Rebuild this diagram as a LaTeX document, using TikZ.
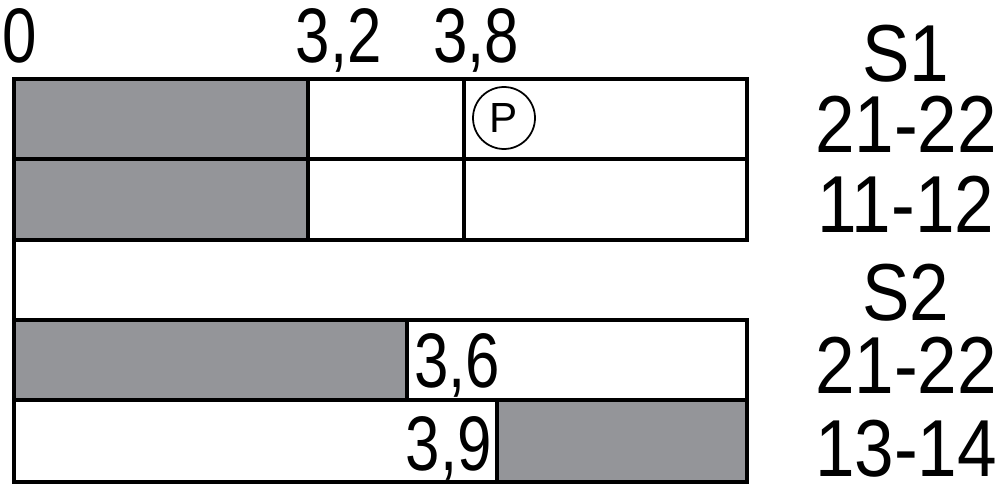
\documentclass[tikz,border=0pt]{standalone}
\usepackage{fontspec}
\setmainfont{Liberation Sans}
\newfontfamily\dinfont[FakeStretch=0.8]{Liberation Sans}
\newfontfamily\condfont[FakeStretch=0.88]{Liberation Sans}
\definecolor{camgray}{RGB}{148,149,153}
\begin{document}
\begin{tikzpicture}[x=0.02cm,y=-0.02cm]
            \useasboundingbox (0,0) rectangle (1000,500);
            % shaded parts of the cam
            \fill[camgray] (14,79) rectangle (308,240);
            \fill[camgray] (14,320) rectangle (407,400);
            \fill[camgray] (497,400) rectangle (747,482);
            \begin{scope}[line width=2.2pt]
            \draw (14,79) rectangle (747,240);
            \draw (14,159) -- (747,159);
            \draw (308,79) -- (308,240);
            \draw (464,79) -- (464,240);
            \draw (14,240) -- (14,320);
            \draw (14,320) rectangle (747,482);
            \draw (14,400) -- (747,400);
            \draw (407,320) -- (407,400);
            \draw (497,400) -- (497,482);
            \end{scope}
            \node[circle,draw,line width=1pt,minimum size=1.24cm,inner sep=0pt,font=\fontsize{24}{24}\selectfont] (p) at (504,118) {P};
            \begin{scope}[every node/.style={inner sep=0pt,font=\dinfont\fontsize{44}{44}\selectfont}]
            \node[anchor=base west] (t0) at (2,63) {0};
            \node[anchor=base east] (t32) at (382,63) {3,2};
            \node[anchor=base west] (t38) at (433,63) {3,8};
            \node[anchor=base west] (t36) at (414,387) {3,6};
            \node[anchor=base east] (t39) at (492,470) {3,9};
            \end{scope}
            \begin{scope}[every node/.style={inner sep=0pt,anchor=base,font=\condfont\fontsize{46}{46}\selectfont}]
            \node (s1) at (906,82) {S1};
            \node (s1a) at (906,153) {21-22};
            \node (s1b) at (906,232) {11-12};
            \node (s2) at (906,320) {S2};
            \node (s2a) at (906,393) {21-22};
            \node (s2b) at (906,476) {13-14};
            \end{scope}
            \end{tikzpicture}
\end{document}
